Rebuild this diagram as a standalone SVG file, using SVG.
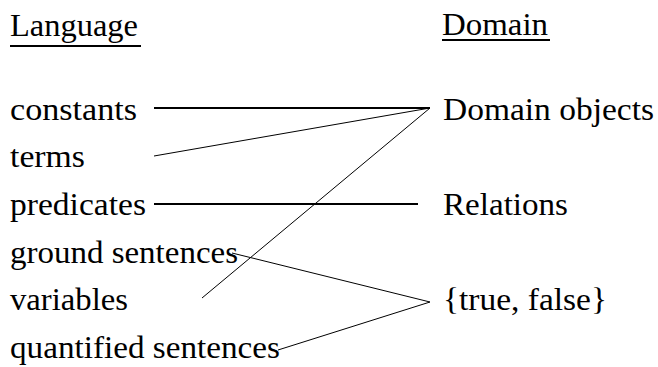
<svg xmlns="http://www.w3.org/2000/svg" width="658" height="367" viewBox="0 0 658 367">
<style>
text{font-family:"Liberation Serif","DejaVu Serif","Noto Serif",Tinos,"Nimbus Roman","FreeSerif","Times New Roman",Times,serif;font-size:31px;fill:#000}
.thick{stroke:#000;stroke-width:2;fill:none}
.thin{stroke:#000;stroke-width:1;fill:none}
</style>
<rect width="658" height="367" fill="#fff"/>
<g id="header-language">
<text x="10" y="36" textLength="128" lengthAdjust="spacingAndGlyphs">Language</text>
<line class="thick" x1="10" y1="46" x2="141" y2="46"/>
</g>
<g id="header-domain">
<text x="442" y="35" textLength="106" lengthAdjust="spacingAndGlyphs">Domain</text>
<line class="thick" x1="442" y1="40" x2="550" y2="40"/>
</g>
<g id="n-constants"><text x="10" y="119.5" textLength="127" lengthAdjust="spacingAndGlyphs">constants</text></g>
<g id="n-terms"><text x="10" y="167" textLength="75" lengthAdjust="spacingAndGlyphs">terms</text></g>
<g id="n-predicates"><text x="10" y="215" textLength="136" lengthAdjust="spacingAndGlyphs">predicates</text></g>
<g id="n-ground"><text x="10" y="262.5" textLength="228" lengthAdjust="spacingAndGlyphs">ground sentences</text></g>
<g id="n-variables"><text x="10" y="310" textLength="118" lengthAdjust="spacingAndGlyphs">variables</text></g>
<g id="n-quantified"><text x="10" y="358" textLength="270" lengthAdjust="spacingAndGlyphs">quantified sentences</text></g>
<g id="n-domain-objects"><text x="443" y="119.5" textLength="211" lengthAdjust="spacingAndGlyphs">Domain objects</text></g>
<g id="n-relations"><text x="443" y="215" textLength="125" lengthAdjust="spacingAndGlyphs">Relations</text></g>
<g id="n-truefalse"><text x="443" y="310" textLength="164" lengthAdjust="spacingAndGlyphs">{true, false}</text></g>
<g id="connectors">
<line class="thick" x1="154" y1="108" x2="430" y2="108"/>
<line class="thin" x1="154" y1="156" x2="430" y2="108"/>
<line class="thin" x1="202" y1="298" x2="430" y2="108"/>
<line class="thick" x1="154" y1="204" x2="418" y2="204"/>
<line class="thin" x1="232" y1="253" x2="430" y2="302"/>
<line class="thin" x1="278" y1="350" x2="430" y2="302"/>
</g>
</svg>
